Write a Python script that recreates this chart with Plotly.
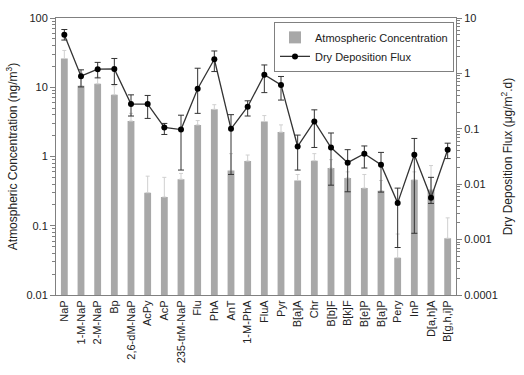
import plotly.graph_objects as go

cats = ["NaP", "1-M-NaP", "2-M-NaP", "Bp", "2,6-dM-NaP", "AcPy", "AcP", "235-trM-NaP",
        "Flu", "PhA", "AnT", "1-M-PhA", "FluA", "Pyr", "B[a]A", "Chr", "B[b]F", "B[k]F",
        "B[e]P", "B[a]P", "Pery", "InP", "D[a,h]A", "B[g,h,i]P"]

conc = [26, 10.5, 11.2, 7.8, 3.25, 0.30, 0.26, 0.47, 2.86, 4.8, 0.63, 0.86, 3.2, 2.25,
        0.45, 0.87, 0.68, 0.49, 0.35, 0.32, 0.0345, 0.46, 0.33, 0.066]
conc_hi = [34, 16, 14, 10.5, 4.2, 0.52, 0.50, 0.57, 3.3, 5.6, 1.1, 1.05, 3.9, 2.86,
           0.55, 1.1, 0.9, 0.6, 0.55, 0.45, 0.076, 0.6, 0.74, 0.13]

flux = [5.0, 0.89, 1.19, 1.2, 0.28, 0.28, 0.106, 0.097, 0.53, 1.8, 0.1, 0.25, 0.95, 0.62,
        0.048, 0.136, 0.046, 0.0245, 0.0355, 0.0224, 0.0046, 0.034, 0.0057, 0.042]
flux_hi = [6.2, 1.16, 1.58, 1.86, 0.41, 0.40, 0.125, 0.176, 1.24, 2.54, 0.18, 0.32, 1.42, 0.88,
           0.077, 0.22, 0.084, 0.042, 0.049, 0.0375, 0.0085, 0.067, 0.0133, 0.055]
flux_lo = [4.0, 0.57, 0.83, 0.63, 0.17, 0.154, 0.079, 0.018, 0.19, 1.08, 0.015, 0.17, 0.45, 0.33,
           0.018, 0.046, 0.0096, 0.0073, 0.0196, 0.0072, 0.00072, 0.0013, 0.0045, 0.029]

left_ticks = [0.01, 0.1, 1, 10, 100]
left_labels = ["0.01", "0.1", "1", "10", "100"]
right_ticks = [0.0001, 0.001, 0.01, 0.1, 1, 10]
right_labels = ["0.0001", "0.001", "0.01", "0.1", "1", "10"]


def minor_vals(lo_exp, hi_exp):
    out = []
    for e in range(lo_exp, hi_exp):
        for d in range(2, 10):
            out.append(d * 10 ** e)
    return out


FONT = "Liberation Sans, Arial, sans-serif"
AX = "#808080"

fig = go.Figure()
fig.add_trace(go.Bar(
    x=cats, y=conc, name="Atmospheric Concentration",
    marker=dict(color="#a8a8a8", line=dict(width=0)),
    error_y=dict(type="data", symmetric=False,
                 array=[h - v for h, v in zip(conc_hi, conc)],
                 arrayminus=[0] * len(conc),
                 color="#d0d0d0", thickness=1, width=2),
))
fig.add_trace(go.Scatter(
    x=cats, y=flux, name="Dry Deposition Flux", yaxis="y2",
    mode="lines+markers",
    line=dict(color="#333333", width=1.3),
    marker=dict(color="black", size=6, symbol="circle"),
    error_y=dict(type="data", symmetric=False,
                 array=[h - v for h, v in zip(flux_hi, flux)],
                 arrayminus=[v - l for v, l in zip(flux, flux_lo)],
                 color="#333333", thickness=1, width=3),
))

fig.update_layout(
    width=524, height=375,
    margin=dict(l=52, r=61, t=15, b=75),
    paper_bgcolor="white", plot_bgcolor="white",
    font=dict(family=FONT, size=11, color="#222222"),
    bargap=0.59,
    showlegend=True,
    legend=dict(x=0.995, xanchor="right", y=0.986, yanchor="top",
                bordercolor=AX, borderwidth=1, bgcolor="white",
                font=dict(size=11), tracegroupgap=0, itemwidth=30),
    xaxis=dict(type="category", range=[-0.5, 23.5], showline=True, linecolor=AX,
               linewidth=1, mirror=True, ticks="", tickangle=-90,
               tickfont=dict(size=11), showgrid=False),
    yaxis=dict(type="log", range=[-2, 2], tickvals=left_ticks, ticktext=left_labels,
               showline=True, linecolor=AX, linewidth=1, ticks="outside", ticklen=5,
               tickcolor=AX, showgrid=False, zeroline=False,
               minor=dict(tickvals=minor_vals(-2, 2), ticks="outside", ticklen=3,
                          tickcolor=AX, showgrid=False),
               title=dict(text="Atmospheric Concentration (ng/m<sup>3</sup>)",
                          font=dict(size=12), standoff=6)),
    yaxis2=dict(type="log", range=[-4, 1], overlaying="y", side="right",
                tickvals=right_ticks, ticktext=right_labels,
                showline=True, linecolor=AX, linewidth=1, ticks="outside", ticklen=5,
                tickcolor=AX, showgrid=False, zeroline=False,
                minor=dict(tickvals=minor_vals(-4, 1), ticks="outside", ticklen=3,
                           tickcolor=AX, showgrid=False),
                title=dict(text="Dry Deposition Flux (μg/m<sup>2</sup>.d)",
                           font=dict(size=12), standoff=6)),
)

fig.write_html("out.html")
